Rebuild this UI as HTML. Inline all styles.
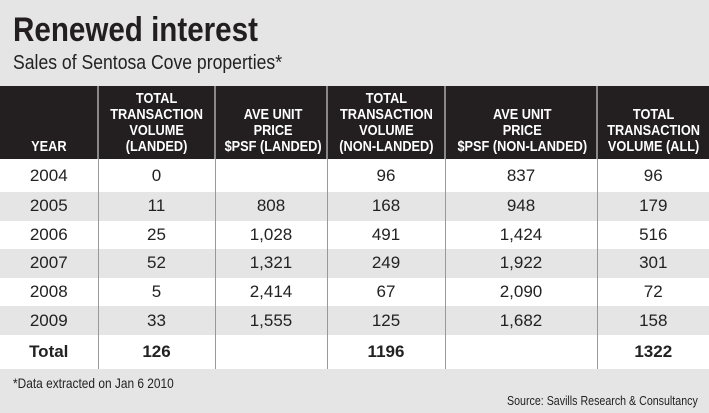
<!DOCTYPE html><html><head><style>
body{margin:0;width:709px;height:413px;background:#e5e5e6;font-family:"Liberation Sans",sans-serif;position:relative;overflow:hidden;color:#222}
.t{position:absolute;white-space:nowrap;transform-origin:0 0}
table{position:absolute;left:0;top:86px;width:709px;border-collapse:collapse;table-layout:fixed}
th{background:#231f20;color:#fff;font-weight:bold;font-size:15px;line-height:16px;height:69px;vertical-align:bottom;padding:0 0 4px;border-left:2px solid #888}
th:first-child{border-left:none}
td{text-align:center;font-size:17px;height:28.6px;padding:0;border-left:1px solid #999}
td:first-child{border-left:none}
tr.g td{background:#e5e5e6}
tr.w td{background:#fff}
.c{display:inline-block;transform:scaleX(.85);white-space:nowrap}
</style></head><body>
<div class="t" style="left:13px;top:11px;font-size:34px;font-weight:bold;transform:scaleX(.87);color:#231f20">Renewed interest</div>
<div class="t" style="left:13px;top:52px;font-size:20px;transform:scaleX(.88)">Sales of Sentosa Cove properties*</div>
<table>
<col style="width:98px"><col style="width:117px"><col style="width:112px"><col style="width:118px"><col style="width:152px"><col>
<tr><th><span class="c">YEAR</span></th><th><span class="c">TOTAL<br>TRANSACTION<br>VOLUME<br>(LANDED)</span></th><th><span class="c">AVE UNIT<br>PRICE<br>$PSF (LANDED)</span></th><th><span class="c">TOTAL<br>TRANSACTION<br>VOLUME<br>(NON-LANDED)</span></th><th><span class="c">AVE UNIT<br>PRICE<br>$PSF (NON-LANDED)</span></th><th><span class="c">TOTAL<br>TRANSACTION<br>VOLUME (ALL)</span></th></tr>
<tr class="w"><td style="height:33px">2004</td><td>0</td><td></td><td>96</td><td>837</td><td>96</td></tr>
<tr class="g"><td>2005</td><td>11</td><td>808</td><td>168</td><td>948</td><td>179</td></tr>
<tr class="w"><td>2006</td><td>25</td><td>1,028</td><td>491</td><td>1,424</td><td>516</td></tr>
<tr class="g"><td>2007</td><td>52</td><td>1,321</td><td>249</td><td>1,922</td><td>301</td></tr>
<tr class="w"><td>2008</td><td>5</td><td>2,414</td><td>67</td><td>2,090</td><td>72</td></tr>
<tr class="g"><td>2009</td><td>33</td><td>1,555</td><td>125</td><td>1,682</td><td>158</td></tr>
<tr class="w" style="font-weight:bold"><td style="height:34px">Total</td><td>126</td><td></td><td>1196</td><td></td><td>1322</td></tr>
</table>
<div class="t" style="left:13px;top:375px;font-size:14px;transform:scaleX(.85)">*Data extracted on Jan 6 2010</div>
<div class="t" style="left:507px;top:393px;font-size:13px;transform:scaleX(.82)">Source: Savills Research &amp; Consultancy</div>
</body></html>
